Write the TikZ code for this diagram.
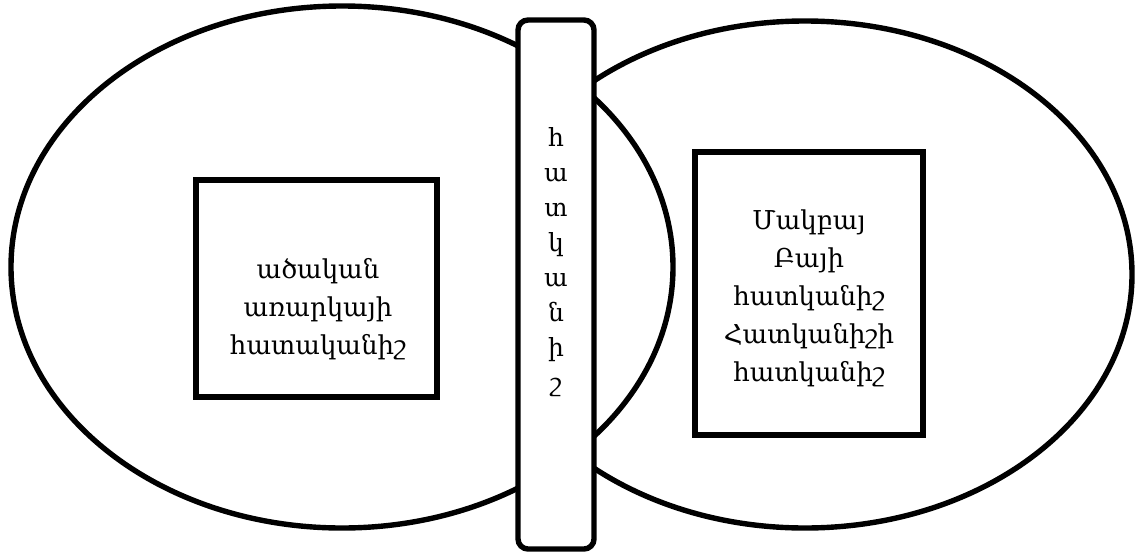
\documentclass[tikz,border=0pt]{standalone}
\usepackage{fontspec}
\setmainfont{DejaVu Serif}
\usetikzlibrary{shapes.geometric}
\begin{document}
\begin{tikzpicture}[x=1pt,y=-1pt,
  oval/.style={draw,ellipse,line width=5.4pt,inner sep=0pt,fill=white},
  squarebox/.style={draw,rectangle,line width=5.4pt,inner sep=0pt,fill=white},
  pillbox/.style={draw,rectangle,rounded corners=10pt,line width=5.4pt,inner sep=0pt,fill=white},
  lbl/.style={align=center,inner sep=0pt,font=\fontsize{26}{38}\selectfont},
  vlbl/.style={align=center,inner sep=0pt,font=\fontsize{25}{35}\selectfont}]
\useasboundingbox[fill=white] (0,0) rectangle (1137,552);
\node[oval,minimum width=654pt,minimum height=507pt] (right) at (805,274.5) {};
\node[oval,minimum width=662pt,minimum height=522pt] (left) at (342,267) {};
\node[squarebox,minimum width=241pt,minimum height=217pt] (lbox) at (316.5,288.5) {};
\node[squarebox,minimum width=228pt,minimum height=283pt] (rbox) at (809,293.5) {};
\node[pillbox,minimum width=76pt,minimum height=529pt] (bar) at (556,284.5) {};
\node[lbl] (ltext) at (318,309) {ածական\\առարկայի\\հատականիշ};
\node[lbl] (rtext) at (809,298) {Մակբայ\\Բայի\\հատկանիշ\\Հատկանիշի\\հատկանիշ};
\node[vlbl] (vtext) at (556,262) {հ\\ա\\տ\\կ\\ա\\ն\\ի\\շ};
\end{tikzpicture}
\end{document}
